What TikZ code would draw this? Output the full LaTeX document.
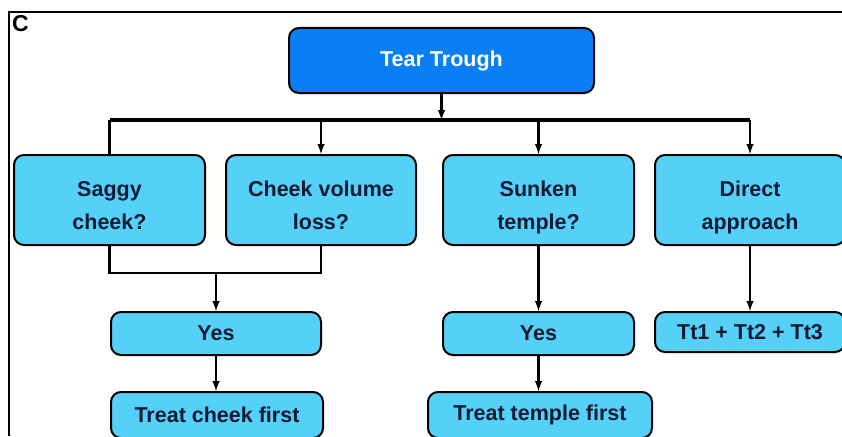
\documentclass[tikz,border=0pt]{standalone}
\usepackage{fontspec}
\setmainfont{Liberation Sans}
\usepackage{tikz}

\definecolor{topblue}{HTML}{0A7FF5}
\definecolor{boxcyan}{HTML}{55D0F7}
\definecolor{inkblue}{HTML}{111A35}

\begin{document}
\begin{tikzpicture}[x=1pt,y=-1pt,
    box/.style={draw=black,line width=2pt,rounded corners=10pt,fill=boxcyan,
        text=inkblue,font=\fontsize{21.5}{33}\selectfont\bfseries,align=center,
        inner sep=0pt,minimum width=#1},
    box/.default=190pt,
    question/.style={minimum height=90pt,text height=58pt,text depth=0pt},
    link/.style={line width=2.4pt},
    bus/.style={line width=4pt}]
    \clip (0,0) rectangle (842,436);
    \useasboundingbox (0,0) rectangle (842,436);
    \draw[line width=1.6pt] (9,436) -- (9,12) -- (843,12);
    \node[anchor=north west,inner sep=0pt,font=\fontsize{23}{23}\selectfont\bfseries] (tag) at (12,15) {C};

    % top of the tree
    \node[box=305pt,minimum height=65pt,fill=topblue,text=white] (trough) at (441.5,60.5) {Tear Trough};

    % questions
    \node[box=191pt,question] (saggy) at (109.5,200) {Saggy\\cheek?};
    \node[box=190pt,question] (volume) at (321,200) {Cheek volume\\loss?};
    \node[box=191pt,question] (temple) at (538.5,200) {Sunken\\temple?};
    \node[box=190pt,question] (direct) at (750,200) {Direct\\approach};

    % answers
    \node[box=210pt,minimum height=43pt] (yescheek) at (216,333.5) {Yes};
    \node[box=191pt,minimum height=43pt] (yestemple) at (538.5,333.5) {Yes};
    \node[box=190pt,minimum height=40pt] (combo) at (750,332) {Tt1 + Tt2 + Tt3};
    \node[box=212pt,minimum height=46pt] (cheekfirst) at (217,415) {Treat cheek first};
    \node[box=224pt,minimum height=46pt] (templefirst) at (540,415) {Treat temple first};

    \coordinate (split) at (trough.south |- 0,120);
    \coordinate (join) at (216,273);

    \draw[link,-latex] (trough.south) -- (split);
    \draw[bus] (saggy.north |- split) -- (direct.north |- split);
    \draw[link] (saggy.north |- split) -- (saggy.north);
    \draw[link,-latex] (volume.north |- split) -- (volume.north);
    \draw[link,-latex] (temple.north |- split) -- (temple.north);
    \draw[link,-latex] (direct.north |- split) -- (direct.north);

    \draw[link] (saggy.south) |- (join) -| (volume.south);
    \draw[link,-latex] (join) -- (join |- yescheek.north);
    \draw[link,-latex] (yescheek.south) -- (yescheek.south |- cheekfirst.north);
    \draw[link,-latex] (temple.south) -- (temple.south |- yestemple.north);
    \draw[link,-latex] (yestemple.south) -- (yestemple.south |- templefirst.north);
    \draw[link,-latex] (direct.south) -- (combo.north);
\end{tikzpicture}
\end{document}
